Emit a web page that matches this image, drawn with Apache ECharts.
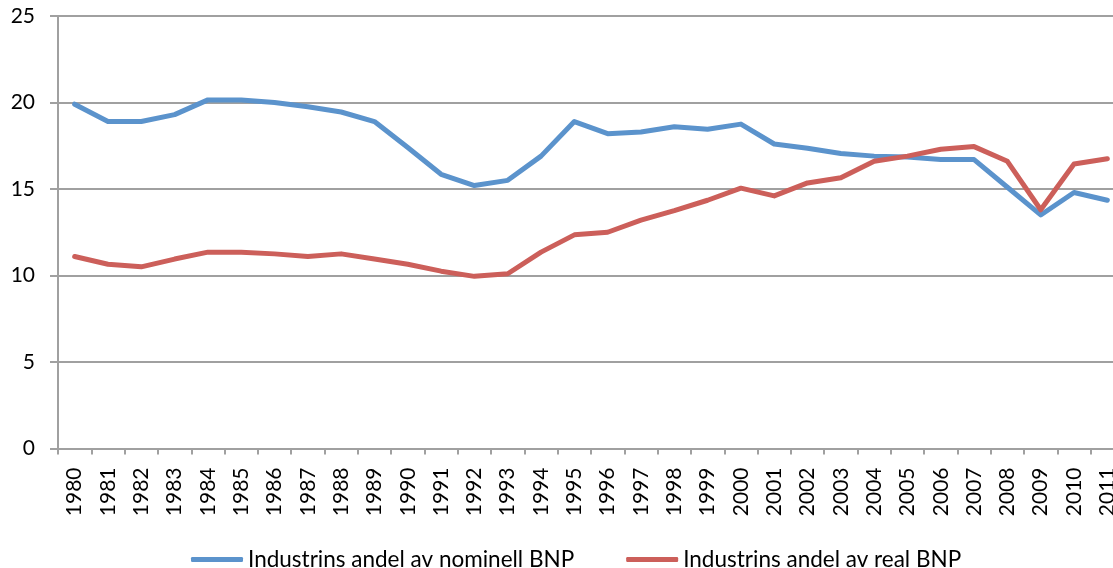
<!DOCTYPE html>
<html>
<head>
<meta charset="utf-8">
<script src="https://cdn.jsdelivr.net/npm/echarts@6/dist/echarts.min.js"></script>
<style>
html,body{margin:0;padding:0;background:#fff;}
#chart{width:1113px;height:568px;}
</style>
</head>
<body>
<div id="chart"></div>
<script>
var years = ['1980','1981','1982','1983','1984','1985','1986','1987','1988','1989','1990','1991','1992','1993','1994','1995','1996','1997','1998','1999','2000','2001','2002','2003','2004','2005','2006','2007','2008','2009','2010','2011'];
var nominal = [19.9, 18.9, 18.9, 19.3, 20.15, 20.15, 20.0, 19.75, 19.45, 18.9, 17.4, 15.85, 15.2, 15.5, 16.9, 18.9, 18.2, 18.3, 18.6, 18.45, 18.75, 17.6, 17.35, 17.05, 16.9, 16.85, 16.7, 16.7, 15.1, 13.5, 14.8, 14.35];
var real = [11.1, 10.65, 10.5, 10.95, 11.35, 11.35, 11.25, 11.1, 11.25, 10.95, 10.65, 10.25, 9.95, 10.1, 11.35, 12.35, 12.5, 13.2, 13.75, 14.35, 15.05, 14.6, 15.35, 15.65, 16.6, 16.9, 17.3, 17.45, 16.6, 13.8, 16.45, 16.75];
var seriesNames = ['Industrins andel av nominell BNP', 'Industrins andel av real BNP'];
var yTicks = {min: 0, max: 25, interval: 5};

var FONT = 'Lato';
var chart = echarts.init(document.getElementById('chart'), null, {renderer: 'canvas'});
chart.setOption({
  animation: false,
  backgroundColor: '#ffffff',
  grid: {left: 58, top: 16, right: -11, bottom: 119.5, containLabel: false, outerBoundsMode: 'none'},
  legend: {
    data: seriesNames,
    left: 186,
    top: 543,
    itemWidth: 52,
    itemHeight: 5,
    itemGap: 52,
    icon: 'roundRect',
    textStyle: {fontFamily: FONT, fontSize: 22.5, color: '#000'}
  },
  xAxis: {
    type: 'category',
    data: years,
    boundaryGap: true,
    axisLine: {show: true, lineStyle: {color: '#a0a0a0', width: 2}},
    axisTick: {show: true, interval: 0, length: 6, lineStyle: {color: '#a0a0a0', width: 2}},
    axisLabel: {interval: 0, rotate: 90, margin: 19, fontFamily: FONT, fontSize: 21, color: '#000'},
    splitLine: {show: false}
  },
  yAxis: {
    type: 'value',
    min: yTicks.min,
    max: yTicks.max,
    interval: yTicks.interval,
    axisLine: {show: true, lineStyle: {color: '#a0a0a0', width: 2}},
    axisTick: {show: true, length: 8, lineStyle: {color: '#a0a0a0', width: 2}},
    axisLabel: {margin: 23, fontFamily: FONT, fontSize: 21, color: '#000'},
    splitLine: {show: true, lineStyle: {color: '#a0a0a0', width: 2}}
  },
  series: [
    {
      name: seriesNames[0], type: 'line', data: nominal, showSymbol: false, symbol: 'none',
      lineStyle: {color: '#5b93cc', width: 5, cap: 'round', join: 'round'},
      itemStyle: {color: '#5b93cc'}
    },
    {
      name: seriesNames[1], type: 'line', data: real, showSymbol: false, symbol: 'none',
      lineStyle: {color: '#cc5f5a', width: 5, cap: 'round', join: 'round'},
      itemStyle: {color: '#cc5f5a'}
    }
  ]
});
</script>
</body>
</html>
